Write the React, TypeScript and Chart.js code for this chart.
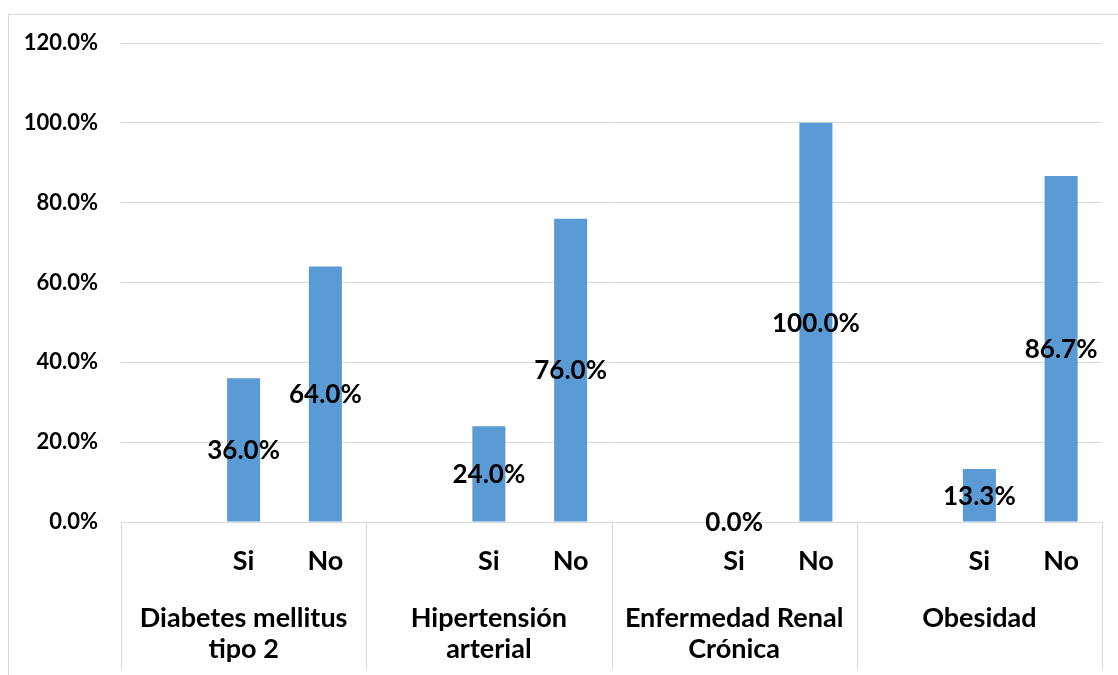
import React, { useEffect, useRef } from "react";
import { Chart, registerables } from "chart.js";

Chart.register(...registerables);

const groups: string[][] = [
  ["Diabetes mellitus", "tipo 2"],
  ["Hipertensión", "arterial"],
  ["Enfermedad Renal", "Crónica"],
  ["Obesidad"],
];
const answers = ["Si", "No"];
const siValues = [36.0, 24.0, 0.0, 13.3];
const noValues = [64.0, 76.0, 100.0, 86.7];
const yTicks = [0, 20, 40, 60, 80, 100, 120];

const FONT = "Lato";
const BAR = "#5B9BD5";
const GRID = "#D9D9D9";
const CAT_SIZE = 27;
const DATA_SIZE = 26;
const AXIS_SIZE = 22;

const slotLabels: string[] = groups.flatMap(() => ["", ...answers]);
const slotValues: (number | null)[] = groups.flatMap((_, i) => [null, siValues[i], noValues[i]]);

const fmt = (v: number) => v.toFixed(1) + "%";

const decorPlugin = {
  id: "decor",
  afterDraw(chart: any) {
    const { ctx, scales } = chart;
    const x = scales.x;
    const n = groups.length;
    const per = slotLabels.length / n;
    const slotW = x.getPixelForValue(1) - x.getPixelForValue(0);
    ctx.save();
    // group separators
    ctx.strokeStyle = GRID;
    ctx.lineWidth = 1;
    for (let g = 0; g <= n; g++) {
      const px =
        g < n
          ? x.getPixelForValue(g * per) - slotW / 2
          : x.getPixelForValue(n * per - 1) + slotW / 2;
      const xx = Math.round(px) + 0.5;
      ctx.beginPath();
      ctx.moveTo(xx, x.top);
      ctx.lineTo(xx, x.top + 148);
      ctx.stroke();
    }
    // group labels
    ctx.fillStyle = "#000";
    ctx.font = `bold ${CAT_SIZE}px ${FONT}`;
    ctx.textAlign = "center";
    ctx.textBaseline = "alphabetic";
    groups.forEach((lines, g) => {
      const l = x.getPixelForValue(g * per) - slotW / 2;
      const r = x.getPixelForValue(g * per + per - 1) + slotW / 2;
      const cx = (l + r) / 2;
      lines.forEach((t, i) => {
        ctx.fillText(t, cx, x.top + 95.5 + CAT_SIZE * 0.36 + i * 31);
      });
    });
    // data labels (centered on bars)
    ctx.font = `bold ${DATA_SIZE}px ${FONT}`;
    const meta = chart.getDatasetMeta(0);
    meta.data.forEach((bar: any, i: number) => {
      const v = slotValues[i];
      if (v == null) return;
      const cy = (bar.y + bar.base) / 2;
      ctx.fillText(fmt(v), bar.x, cy + DATA_SIZE * 0.36);
    });
    ctx.restore();
  },
};

export default function App() {
  const ref = useRef<HTMLCanvasElement | null>(null);
  useEffect(() => {
    if (!ref.current) return;
    const chart = new Chart(ref.current, {
      type: "bar",
      data: {
        labels: slotLabels,
        datasets: [
          {
            data: slotValues as any,
            backgroundColor: BAR,
            borderWidth: 0,
            categoryPercentage: 1,
            barPercentage: 0.404,
          },
        ],
      },
      options: {
        responsive: false,
        animation: false,
        events: [],
        layout: { padding: { top: 28, right: 16, left: 0, bottom: 0 } },
        plugins: { legend: { display: false }, tooltip: { enabled: false } },
        scales: {
          x: {
            grid: { display: false },
            border: { display: false },
            ticks: {
              color: "#000",
              font: { family: FONT, size: CAT_SIZE, weight: "bold" },
              padding: 15,
              maxRotation: 0,
              autoSkip: false,
            },
            afterFit: (s: any) => {
              s.height = 153;
            },
          },
          y: {
            min: 0,
            max: 120,
            afterBuildTicks: (s: any) => {
              s.ticks = yTicks.map((v) => ({ value: v }));
            },
            grid: {
              color: GRID,
              lineWidth: 1,
              drawTicks: true,
              tickLength: 23,
              tickColor: "rgba(0,0,0,0)",
            },
            border: { display: false },
            ticks: {
              color: "#000",
              font: { family: FONT, size: AXIS_SIZE, weight: "bold" },
              padding: 0,
              callback: (v: any) => fmt(Number(v)),
            },
            afterFit: (s: any) => {
              s.width = 112;
            },
          },
        },
      },
      plugins: [decorPlugin],
    });
    return () => chart.destroy();
  }, []);
  return (
    <div
      style={{
        position: "fixed",
        left: 8,
        top: 14,
        width: 1110,
        height: 661,
        borderTop: "1px solid #D9D9D9",
        borderLeft: "1px solid #D9D9D9",
        background: "#fff",
      }}
    >
      <canvas ref={ref} width={1109} height={660} style={{ display: "block" }} />
    </div>
  );
}
